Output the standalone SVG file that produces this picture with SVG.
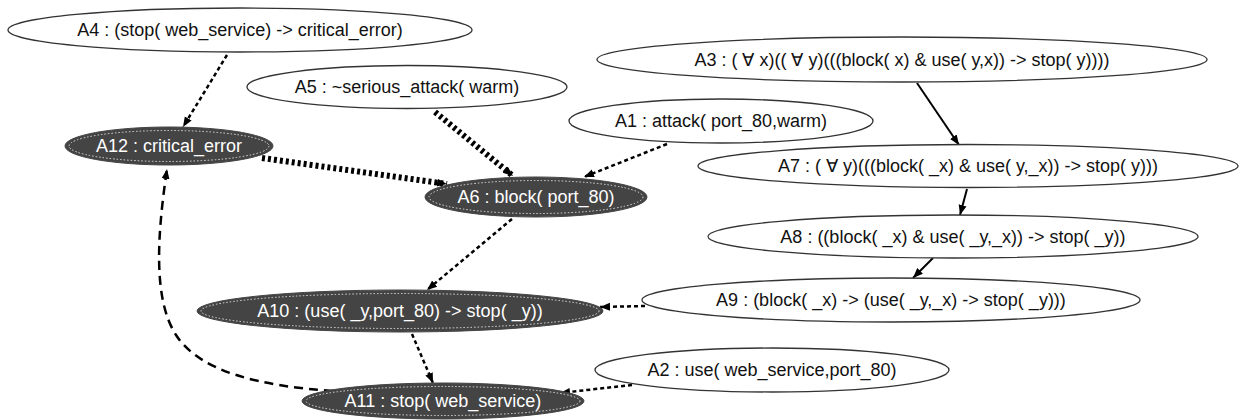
<svg xmlns="http://www.w3.org/2000/svg" width="1241" height="420" viewBox="0 0 1241 420">
<defs>
<marker id="ah" markerUnits="userSpaceOnUse" markerWidth="12" markerHeight="10" refX="10" refY="5" orient="auto">
<path d="M0,1 L10,5 L0,9 Z" fill="#000"/>
</marker>
<style>
.w{fill:#fff;stroke:#333;stroke-width:1.3}
.d{fill:#444;stroke:#444;stroke-width:1}
.in{fill:none;stroke:#ddd;stroke-width:1;stroke-dasharray:1.5,2}
.t{font-family:"Liberation Sans",Arial,sans-serif;font-size:18px;text-anchor:middle;fill:#111}
.tw{font-family:"Liberation Sans",Arial,sans-serif;font-size:18px;text-anchor:middle;fill:#fff}
.e{fill:none;stroke:#000;marker-end:url(#ah)}
.dot{stroke-width:2.5;stroke-dasharray:4,3}
.thk{stroke-width:6;stroke-dasharray:3,3}
.dsh{stroke-width:2.5;stroke-dasharray:9,6}
.sol{stroke-width:2}
</style>
</defs>
<rect width="1241" height="420" fill="#fff"/>
<g id="edges">
<path class="e dot" d="M227,55 L183,127"/>
<path class="e thk" d="M435,112 L513,176"/>
<path class="e thk" d="M262,158 L447,184"/>
<path class="e dot" d="M667,144 L584,177"/>
<path class="e sol" d="M917,83 L959,145"/>
<path class="e sol" d="M967,189 L960,215"/>
<path class="e sol" d="M933,258 L913,278"/>
<path class="e dot" d="M512,219 L427,290"/>
<path class="e dot" d="M645,306 L600,307"/>
<path class="e dot" d="M412,334 L433,383"/>
<path class="e dot" d="M632,385 L560,393"/>
<path class="e dsh" d="M333,391 C260,386 200,372 176,335 C152,298 158,230 167,169"/>
</g>
<g id="A4"><ellipse class="w" cx="240" cy="30" rx="232" ry="22"/><text class="t" x="240" y="36">A4 : (stop( web_service) -&gt; critical_error)</text></g>
<g id="A5"><ellipse class="w" cx="407" cy="87" rx="160" ry="21.5"/><text class="t" x="407" y="93">A5 : ~serious_attack( warm)</text></g>
<g id="A3"><ellipse class="w" cx="902" cy="59.5" rx="305" ry="22.5"/><text class="t" x="902" y="66">A3 : ( ∀ x)(( ∀ y)(((block( x) &amp; use( y,x)) -&gt; stop( y))))</text></g>
<g id="A1"><ellipse class="w" cx="721" cy="121" rx="152" ry="22"/><text class="t" x="721" y="127">A1 : attack( port_80,warm)</text></g>
<g id="A7"><ellipse class="w" cx="968" cy="166" rx="270" ry="21.5"/><text class="t" x="968" y="172">A7 : ( ∀ y)(((block( _x) &amp; use( y,_x)) -&gt; stop( y)))</text></g>
<g id="A8"><ellipse class="w" cx="953" cy="236.5" rx="245" ry="21.5"/><text class="t" x="953" y="243">A8 : ((block( _x) &amp; use( _y,_x)) -&gt; stop( _y))</text></g>
<g id="A9"><ellipse class="w" cx="891" cy="300" rx="249" ry="22"/><text class="t" x="891" y="306">A9 : (block( _x) -&gt; (use( _y,_x) -&gt; stop( _y)))</text></g>
<g id="A2"><ellipse class="w" cx="772" cy="370" rx="177" ry="22"/><text class="t" x="772" y="376">A2 : use( web_service,port_80)</text></g>
<g id="A12"><ellipse class="d" cx="169" cy="146" rx="104" ry="19"/><ellipse class="in" cx="169" cy="146" rx="100" ry="15.5"/><text class="tw" x="169" y="152">A12 : critical_error</text></g>
<g id="A6"><ellipse class="d" cx="536" cy="197" rx="111" ry="20"/><ellipse class="in" cx="536" cy="197" rx="107" ry="16.5"/><text class="tw" x="536" y="203">A6 : block( port_80)</text></g>
<g id="A10"><ellipse class="d" cx="400" cy="311" rx="203" ry="21"/><ellipse class="in" cx="400" cy="311" rx="199" ry="17.5"/><text class="tw" x="400" y="317">A10 : (use( _y,port_80) -&gt; stop( _y))</text></g>
<g id="A11"><ellipse class="d" cx="443" cy="401" rx="141" ry="18"/><ellipse class="in" cx="443" cy="401" rx="137" ry="14.5"/><text class="tw" x="443" y="407">A11 : stop( web_service)</text></g>
</svg>
